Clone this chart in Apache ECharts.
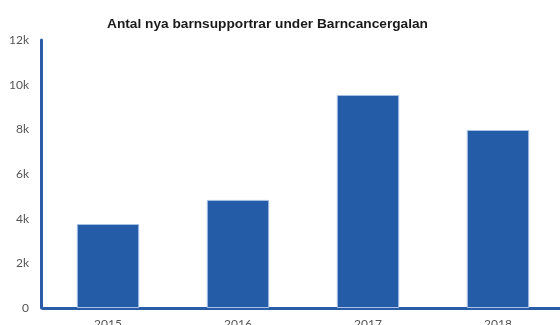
<!DOCTYPE html>
<html><head><meta charset="utf-8">
<script src="https://cdn.jsdelivr.net/npm/echarts@6/dist/echarts.min.js"></script>
<style>html,body{margin:0;padding:0;background:#fff}#c{width:560px;height:325px}</style>
</head><body><div id="c"></div>
<script>
var categories = ['2015', '2016', '2017', '2018'];
var values = [3760, 4840, 9540, 7970];
var yTicks = [0, 2000, 4000, 6000, 8000, 10000, 12000];

var chart = echarts.init(document.getElementById('c'), null, {renderer: 'canvas'});
chart.setOption({
  animation: false,
  title: {
    text: 'Antal nya barnsupportrar under Barncancergalan',
    left: 102, top: 12,
    textStyle: {fontFamily: 'Liberation Sans', fontWeight: 'bold', fontSize: 13.7, color: '#1a1a1a'}
  },
  grid: {left: 43, right: -3, top: 40, bottom: 17, containLabel: false, outerBoundsMode: 'none'},
  xAxis: {
    type: 'category', data: categories,
    axisLine: {lineStyle: {color: '#2a5ca8', width: 3}},
    axisTick: {show: false},
    axisLabel: {margin: 10, fontFamily: 'Lato', fontSize: 12, color: '#555'}
  },
  yAxis: {
    type: 'value', min: yTicks[0], max: yTicks[yTicks.length - 1], interval: 2000,
    offset: 2,
    axisLine: {show: true, lineStyle: {color: '#2a5ca8', width: 3}},
    axisTick: {show: false},
    splitLine: {show: false},
    axisLabel: {margin: 12, fontFamily: 'Lato', fontSize: 12, color: '#555',
      formatter: function (v) { return v === 0 ? '0' : (v / 1000) + 'k'; }}
  },
  series: [{
    type: 'bar', data: values, barWidth: '48%',
    itemStyle: {color: '#245ca8', borderColor: '#a9c1e6', borderWidth: 1}
  }]
});
</script></body></html>
